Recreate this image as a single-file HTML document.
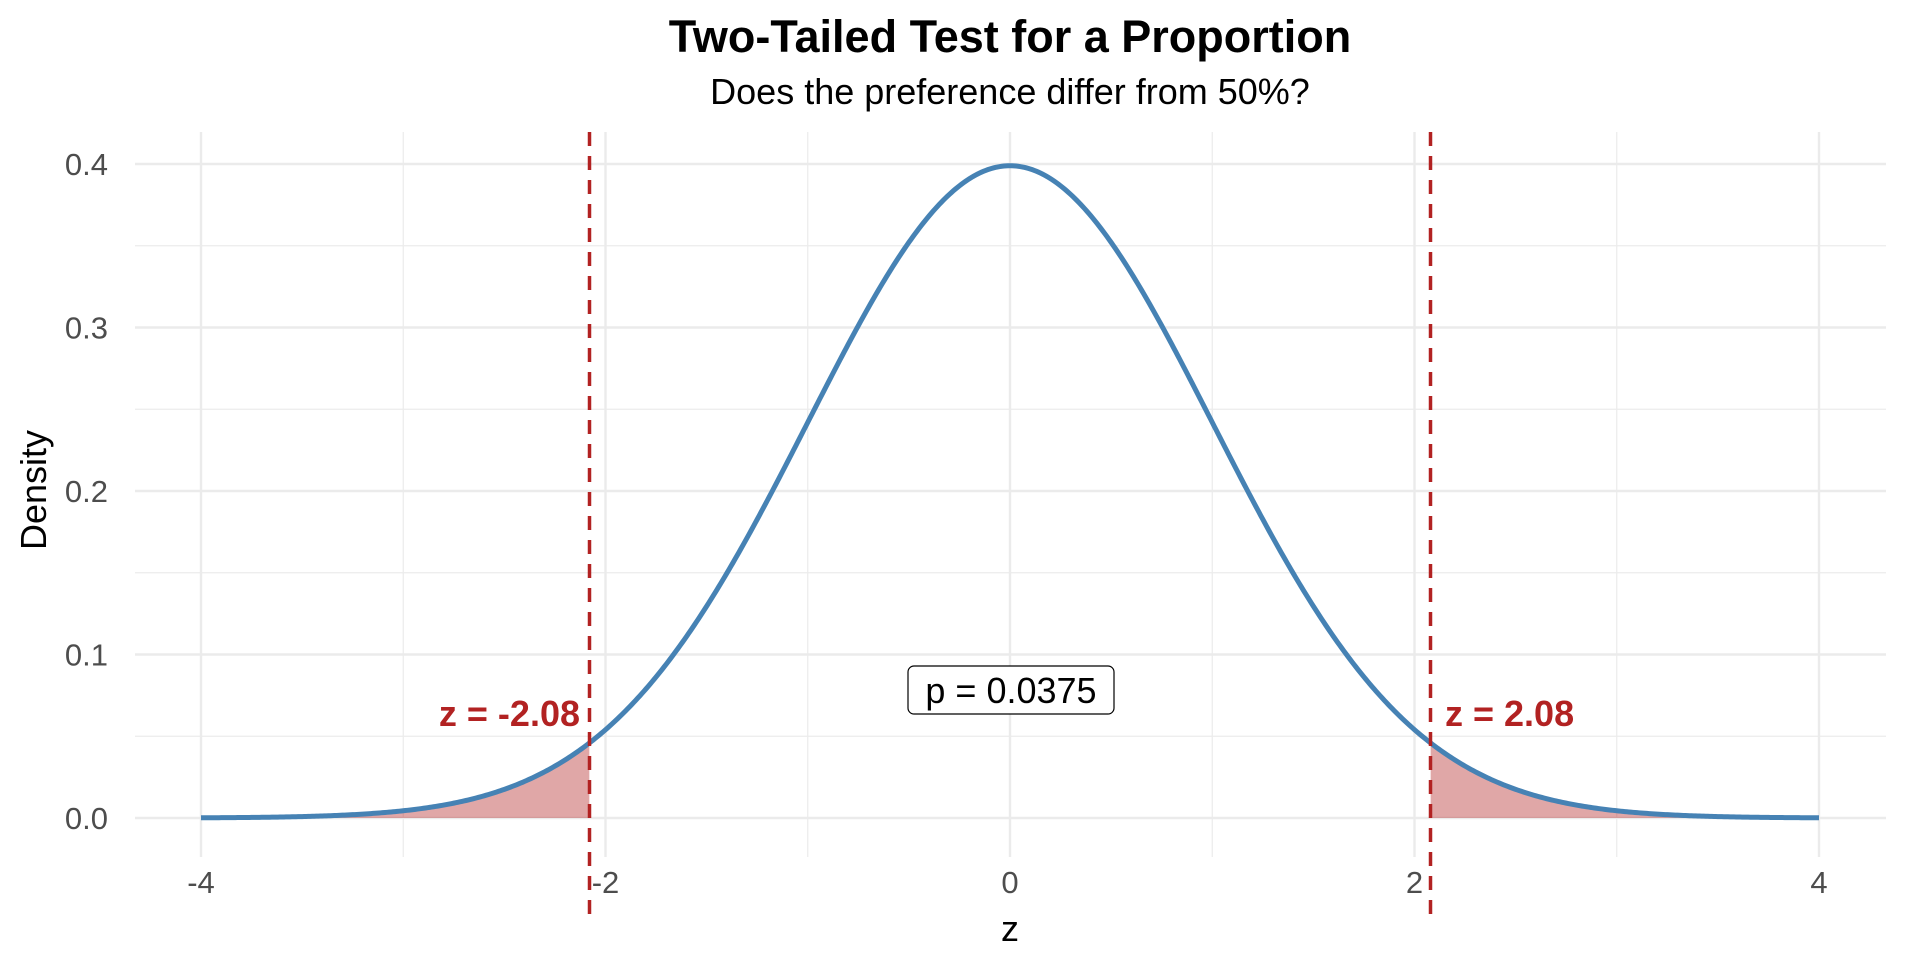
<!DOCTYPE html>
<html><head><meta charset="utf-8"><style>
html,body{margin:0;padding:0;background:#fff;}
svg{display:block;font-family:"Liberation Sans",sans-serif;}
</style></head><body>
<svg id="s" width="1920" height="960" viewBox="0 0 1920 960" xmlns="http://www.w3.org/2000/svg">
<g id="grid"></g>
<path id="fl" fill="#b22222" fill-opacity="0.4"/>
<path id="fr" fill="#b22222" fill-opacity="0.4"/>
<path id="curve" fill="none" stroke="#4682b4" stroke-width="5"/>
<line x1="589.5" y1="132" x2="589.5" y2="921" stroke="#b22222" stroke-width="3.5" stroke-dasharray="14,10"/>
<line x1="1430.5" y1="132" x2="1430.5" y2="921" stroke="#b22222" stroke-width="3.5" stroke-dasharray="14,10"/>
<text x="580" y="726" text-anchor="end" font-size="36" font-weight="bold" fill="#b22222">z = -2.08</text>
<text x="1445" y="726" font-size="36" font-weight="bold" fill="#b22222">z = 2.08</text>
<rect x="908" y="666" width="206" height="48" rx="6" fill="#fff" stroke="#000" stroke-width="1.2"/>
<text x="1011" y="703" text-anchor="middle" font-size="36" fill="#000">p = 0.0375</text>
<text x="1010" y="52" text-anchor="middle" font-size="45" font-weight="bold">Two-Tailed Test for a Proportion</text>
<text x="1010" y="104" text-anchor="middle" font-size="36">Does the preference differ from 50%?</text>
<text x="1010" y="941" text-anchor="middle" font-size="36">z</text>
<text transform="translate(46,490) rotate(-90)" text-anchor="middle" font-size="36">Density</text>
<g id="ticks" font-size="31" fill="#4d4d4d"></g>
</svg>
<script>
var X0=1010,SX=202.25,Y0=818,SY=(818-164)/0.4;
function px(z){return X0+z*SX}function py(d){return Y0-d*SY}
function f(z){return Math.exp(-z*z/2)/Math.sqrt(2*Math.PI)}
var g=document.getElementById('grid'),h='';
for(var v=0;v<=0.401;v+=0.05){var maj=Math.round(v*100)%10==0;h+='<line x1="135" x2="1886" y1="'+py(v)+'" y2="'+py(v)+'" stroke="#ebebeb" stroke-width="'+(maj?2.4:1.2)+'"/>';}
for(var z=-4;z<=4;z++){var maj=z%2==0;h+='<line y1="132" y2="857" x1="'+px(z)+'" x2="'+px(z)+'" stroke="#ebebeb" stroke-width="'+(maj?2.4:1.2)+'"/>';}
g.innerHTML=h;
var t='';[0,0.1,0.2,0.3,0.4].forEach(function(v){t+='<text x="108" y="'+(py(v)+11)+'" text-anchor="end">'+v.toFixed(1)+'</text>'});
[-4,-2,0,2,4].forEach(function(z){t+='<text x="'+px(z)+'" y="893" text-anchor="middle">'+z+'</text>'});
document.getElementById('ticks').innerHTML=t;
var d='';for(var i=0;i<=800;i++){var z=-4+i*0.01;d+=(i?'L':'M')+px(z).toFixed(2)+','+py(f(z)).toFixed(2);}
document.getElementById('curve').setAttribute('d',d);
function area(a,b){var s='M'+px(a)+','+Y0;for(var i=0;i<=200;i++){var z=a+(b-a)*i/200;s+='L'+px(z).toFixed(2)+','+py(f(z)).toFixed(2);}return s+'L'+px(b)+','+Y0+'Z';}
document.getElementById('fl').setAttribute('d',area(-4,-2.08));
document.getElementById('fr').setAttribute('d',area(2.08,4));
</script>
</body></html>
